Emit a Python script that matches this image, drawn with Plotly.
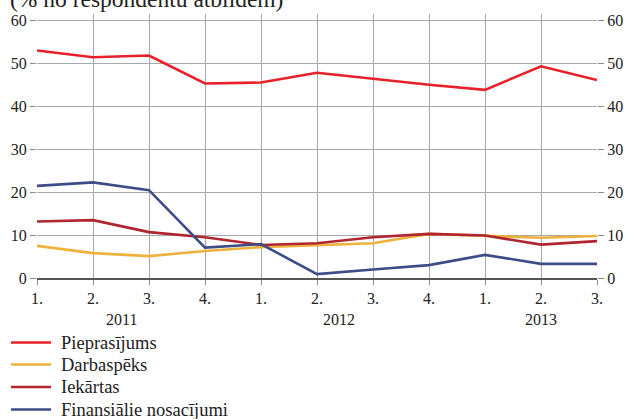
import plotly.graph_objects as go

quarters = ["1.", "2.", "3.", "4.", "1.", "2.", "3.", "4.", "1.", "2.", "3."]
years = ["2011", "2012", "2013"]
year_centres = [1.5, 5.4, 9.0]

pieprasijums = [53.1, 51.5, 51.9, 45.4, 45.6, 47.9, 46.5, 45.1, 43.9, 49.4, 46.2]
darbaspeks = [7.5, 5.8, 5.1, 6.3, 7.2, 7.6, 8.1, 10.3, 9.9, 9.4, 9.8]
iekartas = [13.2, 13.5, 10.7, 9.5, 7.7, 8.1, 9.5, 10.3, 9.9, 7.8, 8.6]
finansialie = [21.5, 22.3, 20.5, 7.1, 7.9, 0.9, 2.0, 3.0, 5.4, 3.3, 3.3]

series = [
    ("Pieprasījums", pieprasijums, "#E8202A"),
    ("Darbaspēks", darbaspeks, "#EDB23E"),
    ("Iekārtas", iekartas, "#B0252F"),
    ("Finansiālie nosacījumi", finansialie, "#3E4C88"),
]

x = list(range(len(quarters)))
font_family = "Times New Roman, Liberation Serif, DejaVu Serif, serif"
text_col = "#222"

# plot box in pixels (used to place the key below the axes)
W, H = 629, 419
M_L, M_R, M_T, M_B = 37, 32, 14, 141
plot_w = W - M_L - M_R
plot_h = H - M_T - M_B


def px_to_paper(px, py):
    return (px - M_L) / plot_w, (H - M_B - py) / plot_h


fig = go.Figure()
for name, vals, col in series:
    fig.add_trace(go.Scatter(x=x, y=vals, name=name, mode="lines",
                             line=dict(color=col, width=2.6)))

# invisible twin trace so the right-hand axis is drawn
fig.add_trace(go.Scatter(x=x, y=pieprasijums, yaxis="y2", showlegend=False,
                         hoverinfo="skip", line=dict(width=0), opacity=0))

axis_common = dict(
    range=[0, 61.6], tickvals=[0, 10, 20, 30, 40, 50, 60],
    ticks="outside", ticklen=6, tickcolor="#8a8a8a",
    tickfont=dict(family=font_family, size=16, color=text_col),
    zeroline=False, showline=False,
)

fig.update_layout(
    width=W, height=H,
    margin=dict(l=M_L, r=M_R, t=M_T, b=M_B, autoexpand=False),
    paper_bgcolor="white", plot_bgcolor="white",
    font=dict(family=font_family, size=16, color=text_col),
    xaxis=dict(
        range=[0, 10], tickvals=x, ticktext=quarters,
        showgrid=True, gridcolor="#a8a8a8", gridwidth=1,
        ticks="outside", ticklen=5, tickcolor="#8a8a8a",
        showline=True, linecolor="#555", linewidth=1.5,
        zeroline=False, tickfont=dict(family=font_family, size=16, color=text_col),
    ),
    yaxis=dict(showgrid=True, gridcolor="#a8a8a8", gridwidth=1, **axis_common),
    yaxis2=dict(overlaying="y", side="right", showgrid=False, **axis_common),
    showlegend=False,
)

# year labels under each group of quarters
for yr, xc in zip(years, year_centres):
    fig.add_annotation(x=xc, y=0, xref="x", yref="paper", text=yr,
                       showarrow=False, yanchor="top", yshift=-31,
                       font=dict(family=font_family, size=16, color=text_col))

# key below the chart: a short line sample plus the series name
key_rows = [342.5, 364.5, 387.0, 409.5]
for (name, _, col), row in zip(series, key_rows):
    x0, yy = px_to_paper(11, row)
    x1, _ = px_to_paper(51, row)
    fig.add_shape(type="line", xref="paper", yref="paper",
                  x0=x0, x1=x1, y0=yy, y1=yy,
                  line=dict(color=col, width=2.6))
    tx, _ = px_to_paper(59, row)
    fig.add_annotation(x=tx, y=yy, xref="paper", yref="paper", text=name,
                       showarrow=False, xanchor="left", yanchor="middle",
                       font=dict(family=font_family, size=18.5, color=text_col))

tx, _ = px_to_paper(8, 0)
fig.add_annotation(x=tx, y=1, xref="paper", yref="paper", xanchor="left",
                   yanchor="bottom", yshift=0,
                   text="(% no respondentu atbildēm)", showarrow=False,
                   font=dict(family=font_family, size=23.5, color=text_col))

fig.write_html("out.html")
